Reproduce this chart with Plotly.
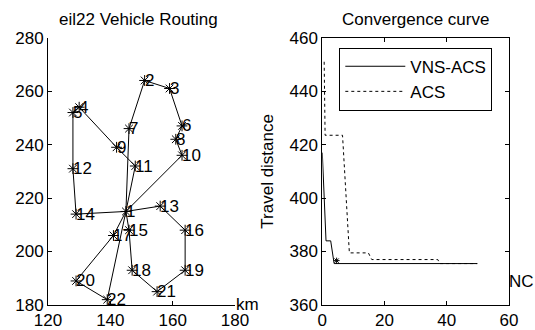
import plotly.graph_objects as go

# ---------------- data ----------------
node_ids = list(range(1, 23))
node_x = [145, 151, 159, 130, 128, 163, 146, 161, 142, 163, 148,
          128, 156, 129, 146, 164, 141, 147, 164, 129, 155, 139]
node_y = [215, 264, 261, 254, 252, 247, 246, 242, 239, 236, 232,
          231, 217, 214, 208, 208, 206, 193, 193, 189, 185, 182]
routes = [
    [1, 11, 9, 4, 5, 12, 14, 1],
    [1, 7, 2, 3, 6, 8, 10, 1],
    [1, 13, 16, 19, 21, 18, 15, 1],
    [1, 17, 20, 22, 1],
]

vns_iter = [0, 1.2, 2.7, 3.8, 49.8]
vns_dist = [417, 384, 384, 375.5, 375.5]
acs_iter = [0.6, 0.9, 6.5, 8.7, 14.8, 15.9, 37.1, 37.8, 49.8]
acs_dist = [451, 423.5, 423.5, 379.5, 379.5, 377, 377, 375.5, 375.5]
best_iter = [4.6]
best_dist = [376.6]

left_xticks = [120, 140, 160, 180]
left_yticks = [180, 200, 220, 240, 260, 280]
right_xticks = [0, 20, 40, 60]
right_yticks = [360, 380, 400, 420, 440, 460]

# ---------------- figure ----------------
W, H = 535, 330
FONT = "Liberation Sans, Arial, sans-serif"
FS = 17

fig = go.Figure()

for r in routes:
    fig.add_trace(go.Scatter(
        x=[node_x[i - 1] for i in r], y=[node_y[i - 1] for i in r],
        mode="lines", line=dict(color="black", width=1),
        showlegend=False, hoverinfo="skip", xaxis="x", yaxis="y"))

fig.add_trace(go.Scatter(
    x=node_x, y=node_y, mode="markers",
    marker=dict(symbol="asterisk-open", size=9, color="black",
                line=dict(color="black", width=1)),
    showlegend=False, xaxis="x", yaxis="y"))

annotations = []
for nid, nx, ny in zip(node_ids, node_x, node_y):
    annotations.append(dict(x=nx, y=ny, xref="x", yref="y", text=str(nid),
                            showarrow=False, xanchor="left", yanchor="middle",
                            xshift=-2, font=dict(size=FS, color="black", family=FONT)))

fig.add_trace(go.Scatter(
    x=vns_iter, y=vns_dist, mode="lines", name="VNS-ACS",
    line=dict(color="black", width=1), xaxis="x2", yaxis="y2"))
fig.add_trace(go.Scatter(
    x=acs_iter, y=acs_dist, mode="lines", name="ACS",
    line=dict(color="black", width=1, dash="dot"), xaxis="x2", yaxis="y2"))
fig.add_trace(go.Scatter(
    x=best_iter, y=best_dist, mode="markers", showlegend=False,
    marker=dict(symbol="asterisk-open", size=5, color="black",
                line=dict(color="black", width=1)),
    xaxis="x2", yaxis="y2"))

def px_x(p):
    return p / W

def px_y(p):
    return 1 - p / H

ydom = [px_y(305), px_y(37.7)]
axfont = dict(size=FS, color="black", family=FONT)
common = dict(showgrid=False, zeroline=False, ticks="inside", ticklen=4,
              tickcolor="black", linecolor="black", linewidth=1, showline=True,
              tickfont=axfont, fixedrange=True, automargin=False)

fig.update_layout(
    template="none",
    width=W, height=H, margin=dict(l=0, r=0, t=0, b=0, autoexpand=False),
    paper_bgcolor="white", plot_bgcolor="white",
    font=dict(family=FONT, size=FS, color="black"),
    xaxis=dict(domain=[px_x(48), px_x(235)], range=[120, 180],
               tickvals=left_xticks, anchor="y", **common),
    yaxis=dict(domain=ydom, range=[180, 280], tickvals=left_yticks,
               anchor="x", **common),
    xaxis2=dict(domain=[px_x(322.3), px_x(509)], range=[0, 60],
                tickvals=right_xticks, anchor="y2", mirror="ticks", **common),
    yaxis2=dict(domain=ydom, range=[360, 460], tickvals=right_yticks,
                anchor="x2", mirror="ticks",
                title=dict(text="Travel distance", font=axfont, standoff=11),
                **common),
    legend=dict(x=px_x(339.3), y=px_y(47.7), xanchor="left", yanchor="top",
                bordercolor="black", borderwidth=1, bgcolor="white",
                font=axfont, itemwidth=60, tracegroupgap=0),
    showlegend=True,
)

annotations += [
    dict(x=px_x(138), y=px_y(19), xref="paper", yref="paper",
         text="eil22 Vehicle Routing", showarrow=False, xanchor="center",
         yanchor="middle", font=axfont),
    dict(x=px_x(415), y=px_y(19), xref="paper", yref="paper",
         text="Convergence curve", showarrow=False, xanchor="center",
         yanchor="middle", font=axfont),
    dict(x=px_x(234), y=px_y(304), xref="paper", yref="paper",
         text="km", showarrow=False, xanchor="left", yanchor="middle",
         font=axfont),
    dict(x=px_x(507), y=px_y(281), xref="paper", yref="paper",
         text="NC", showarrow=False, xanchor="left", yanchor="middle",
         font=axfont),
]
fig.update_layout(annotations=annotations)

fig.write_html(
    "out.html",
    config={"displayModeBar": False},
    post_script="document.body.style.margin='0';document.body.style.overflow='hidden';",
)
